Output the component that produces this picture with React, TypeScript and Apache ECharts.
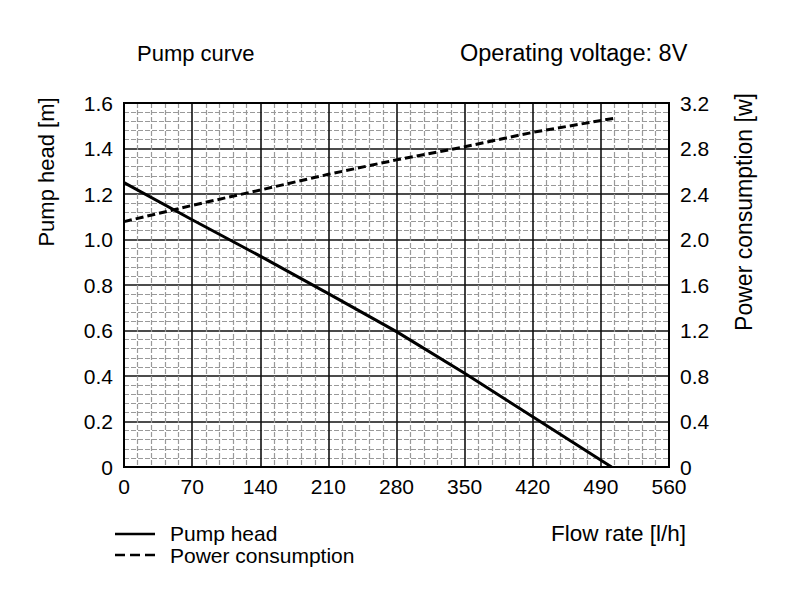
import React, { useEffect, useRef } from "react";
import * as echarts from "echarts";

const headFlow = [0, 70, 140, 210, 280, 350, 420, 501];
const headValues = [1.25, 1.087, 0.927, 0.762, 0.595, 0.412, 0.221, 0];
const powerFlow = [0, 70, 140, 210, 280, 350, 420, 503];
const powerValues = [2.157, 2.3, 2.435, 2.573, 2.7, 2.815, 2.942, 3.065];
const xTicks = [0, 70, 140, 210, 280, 350, 420, 490, 560];
const leftTicks = [0, 0.2, 0.4, 0.6, 0.8, 1.0, 1.2, 1.4, 1.6];
const rightTicks = [0, 0.4, 0.8, 1.2, 1.6, 2.0, 2.4, 2.8, 3.2];
const legendNames = ["Pump head", "Power consumption"];

const FONT = "'Liberation Sans', Arial, sans-serif";

export default function App() {
  const ref = useRef<HTMLDivElement>(null);
  useEffect(() => {
    document.body.style.margin = "0";
    const chart = echarts.init(ref.current!, undefined, { renderer: "svg" });
    const fmt = (v: number) => (Math.abs(v) < 1e-9 ? "0" : v.toFixed(1));
    chart.setOption({
      animation: false,
      backgroundColor: "#fff",
      textStyle: { fontFamily: FONT, color: "#000" },
      grid: {
        left: 124,
        right: 125,
        top: 103,
        bottom: 139,
        show: true,
        borderColor: "#000",
        borderWidth: 2,
        backgroundColor: "transparent",
        z: 5,
      },
      xAxis: {
        type: "value",
        min: xTicks[0],
        max: xTicks[xTicks.length - 1],
        interval: 70,
        axisLine: { show: false },
        axisTick: { show: false },
        axisLabel: { fontSize: 21, color: "#000", margin: 9, fontFamily: FONT },
        splitLine: { show: true, lineStyle: { color: "#111", width: 1.6 } },
        minorTick: { show: false, splitNumber: 5 },
        minorSplitLine: { show: true, lineStyle: { color: "#999", width: 1.2, type: [5, 2] } },
      },
      yAxis: [
        {
          type: "value",
          min: leftTicks[0],
          max: leftTicks[leftTicks.length - 1],
          interval: 0.2,
          axisLine: { show: false },
          axisTick: { show: false },
          axisLabel: { fontSize: 21, color: "#000", margin: 11, formatter: fmt, fontFamily: FONT },
          splitLine: { show: true, lineStyle: { color: "#111", width: 1.6 } },
          minorTick: { show: false, splitNumber: 5 },
          minorSplitLine: { show: true, lineStyle: { color: "#999", width: 1.2, type: [5, 2] } },
        },
        {
          type: "value",
          min: rightTicks[0],
          max: rightTicks[rightTicks.length - 1],
          interval: 0.4,
          position: "right",
          axisLine: { show: false },
          axisTick: { show: false },
          axisLabel: { fontSize: 21, color: "#000", margin: 11, formatter: fmt, fontFamily: FONT },
          splitLine: { show: false },
        },
      ],
      series: [
        {
          name: legendNames[0],
          type: "line",
          yAxisIndex: 0,
          symbol: "none",
          z: 10,
          lineStyle: { color: "#000", width: 3, type: "solid" },
          itemStyle: { color: "#000" },
          data: headFlow.map((f, i) => [f, headValues[i]]),
        },
        {
          name: legendNames[1],
          type: "line",
          yAxisIndex: 1,
          symbol: "none",
          z: 10,
          lineStyle: { color: "#000", width: 3, type: [8, 4] },
          itemStyle: { color: "#000" },
          data: powerFlow.map((f, i) => [f, powerValues[i]]),
        },
      ],
      graphic: [
        {
          type: "text",
          left: 137,
          top: 42,
          style: { text: "Pump curve", font: `22px ${FONT}`, fill: "#000" },
        },
        {
          type: "text",
          left: 460,
          top: 41,
          style: { text: "Operating voltage: 8V", font: `23.5px ${FONT}`, fill: "#000" },
        },
        {
          type: "text",
          x: 46,
          y: 172,
          rotation: Math.PI / 2,
          style: {
            text: "Pump head [m]",
            font: `22px ${FONT}`,
            fill: "#000",
            align: "center",
            verticalAlign: "middle",
          },
        },
        {
          type: "text",
          x: 744,
          y: 212,
          rotation: Math.PI / 2,
          style: {
            text: "Power consumption [w]",
            font: `23px ${FONT}`,
            fill: "#000",
            align: "center",
            verticalAlign: "middle",
          },
        },
        {
          type: "text",
          left: 551,
          top: 522,
          style: { text: "Flow rate [l/h]", font: `22.5px ${FONT}`, fill: "#000" },
        },
        {
          type: "line",
          shape: { x1: 115, y1: 534, x2: 155, y2: 534 },
          style: { stroke: "#000", lineWidth: 2.5 },
        },
        {
          type: "line",
          shape: { x1: 115, y1: 555, x2: 157, y2: 555 },
          style: { stroke: "#000", lineWidth: 2.5, lineDash: [10, 5] },
        },
        {
          type: "text",
          x: 170,
          y: 533.5,
          style: { text: legendNames[0], font: `21px ${FONT}`, fill: "#000", verticalAlign: "middle" },
        },
        {
          type: "text",
          x: 170,
          y: 555.5,
          style: { text: legendNames[1], font: `21px ${FONT}`, fill: "#000", verticalAlign: "middle" },
        },
      ],
    });
    return () => chart.dispose();
  }, []);
  return <div ref={ref} style={{ width: 794, height: 606 }} />;
}
